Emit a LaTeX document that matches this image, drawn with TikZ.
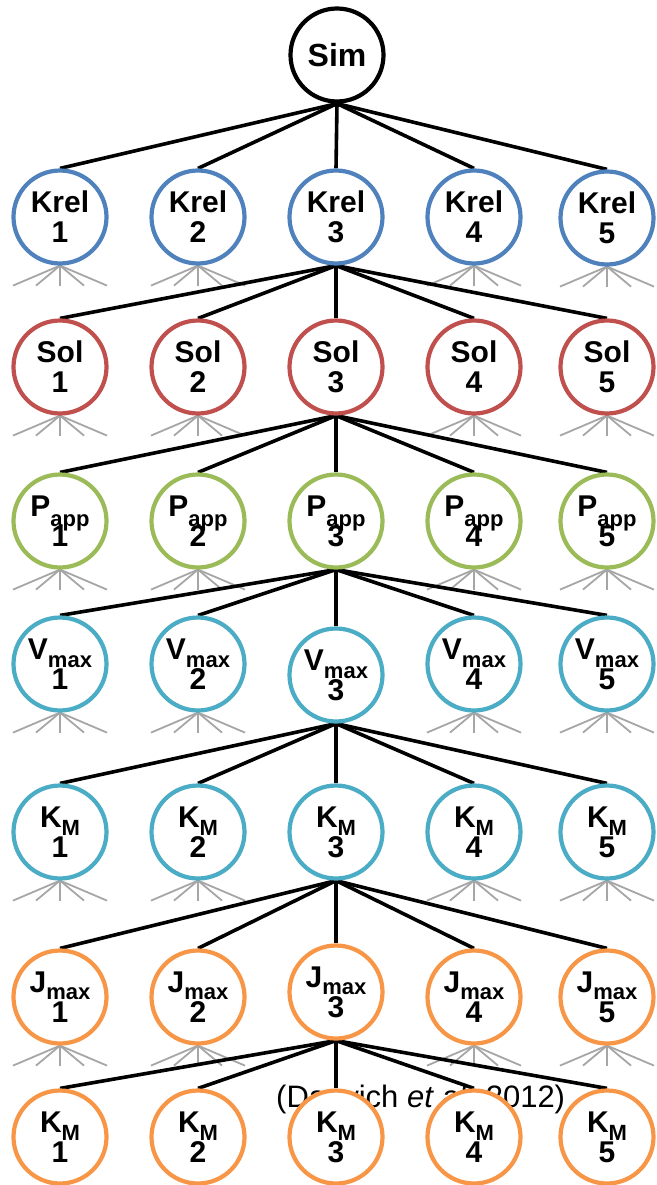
\documentclass[tikz,border=0pt]{standalone}
\usepackage{fontspec}
\setmainfont{Liberation Sans}
\usetikzlibrary{backgrounds}
\definecolor{krelblue}{HTML}{4F81BD}
\definecolor{solred}{HTML}{C0504D}
\definecolor{appgreen}{HTML}{9BBB59}
\definecolor{vcyan}{HTML}{4BACC6}
\definecolor{jorange}{HTML}{F79646}
\definecolor{fangrey}{HTML}{A6A6A6}
\newcommand\sbx[2][-8pt]{\raisebox{#1}[0pt][0pt]{\fontsize{22}{22}\selectfont #2}}
\begin{document}
\begin{tikzpicture}[x=1pt,y=-1pt,
  nd/.style={circle,draw=#1,line width=4.2pt,fill=white,minimum size=93pt,inner sep=0pt,
    align=center,font=\fontsize{30}{30}\selectfont\bfseries},
  edge/.style={line width=3.6pt,draw=black},
  fan/.style={line width=1.8pt,draw=fangrey}]
\useasboundingbox (0,0) rectangle (656,1185);

\node[nd=black,font=\fontsize{32}{32}\selectfont\bfseries] (sim) at (337,55) {Sim};

\foreach \i/\x/\y in {1/60/217,2/198/217,3/336/217,4/474/217,5/607/218}
  \node[nd=krelblue] (krel\i) at (\x,\y) {Krel\\\i};
\foreach \i/\x/\y in {1/60/367,2/198/367,3/336/367,4/474/367,5/607/367}
  \node[nd=solred] (sol\i) at (\x,\y) {Sol\\\i};
\foreach \i/\x/\y in {1/60/521,2/198/521,3/336/521,4/474/521,5/607/521}
  \node[nd=appgreen] (papp\i) at (\x,\y) {P\sbx[-10pt]{app}\\\i};
\foreach \i/\x/\y in {1/60/664,2/198/664,3/336/675,4/474/664,5/607/664}
  \node[nd=vcyan] (vmax\i) at (\x,\y) {V\sbx{max}\\\i};
\foreach \i/\x/\y in {1/60/832,2/198/832,3/336/832,4/474/832,5/607/832}
  \node[nd=vcyan] (kma\i) at (\x,\y) {K\sbx{M}\\\i};
\foreach \i/\x/\y in {1/60/997,2/198/997,3/336/992,4/474/997,5/607/997}
  \node[nd=jorange] (jmax\i) at (\x,\y) {J\sbx[-7pt]{max}\\\i};
\foreach \i/\x/\y in {1/60/1137,2/198/1137,3/336/1137,4/474/1137,5/607/1137}
  \node[nd=jorange] (kmb\i) at (\x,\y) {K\sbx{M}\\\i};

\begin{scope}[on background layer]
  \node[anchor=base west,inner sep=0pt,font=\fontsize{31}{31}\selectfont] (cite) at (276,1107)
    {(Darwich \textit{et al.} 2012)};
  \foreach \r in {krel,sol,papp,vmax,kma,jmax}
    \foreach \i in {1,2,4,5}
      \foreach \dx in {-47,-24,0,24,47}
        \draw[fan] (\r\i.south) -- ++(\dx,20);
  \foreach \i in {1,...,5} {
    \draw[edge] (sim.south) -- (krel\i.north);
    \draw[edge] (krel3.south) -- (sol\i.north);
    \draw[edge] (sol3.south) -- (papp\i.north);
    \draw[edge] (papp3.south) -- (vmax\i.north);
    \draw[edge] (vmax3.south) -- (kma\i.north);
    \draw[edge] (kma3.south) -- (jmax\i.north);
    \draw[edge] (jmax3.south) -- (kmb\i.north);
  }
\end{scope}
\end{tikzpicture}
\end{document}
